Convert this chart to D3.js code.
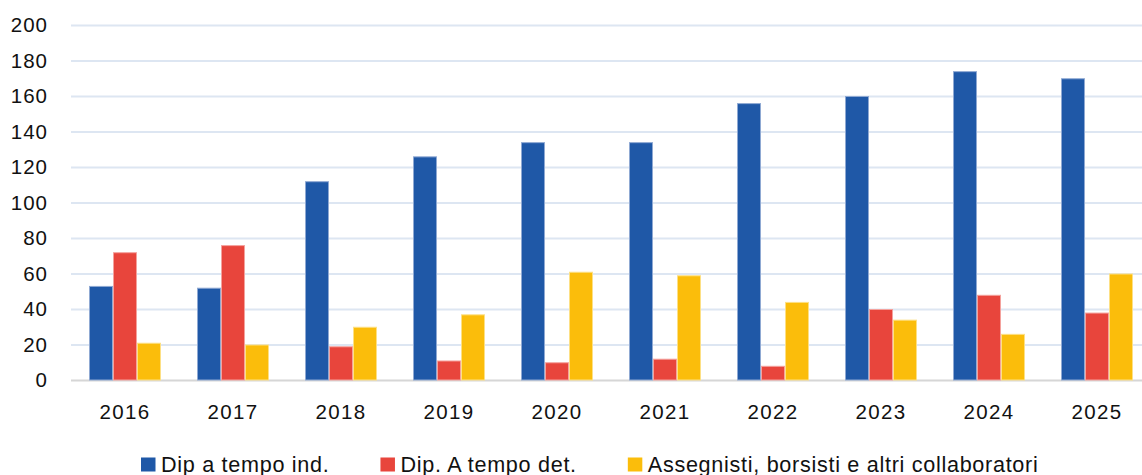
<!DOCTYPE html>
<html><head><meta charset="utf-8">
<script src="https://cdn.jsdelivr.net/npm/d3@7"></script>
<style>
html,body{margin:0;padding:0;background:#fff;}
svg{display:block;}
text{font-family:"Liberation Sans",Arial,sans-serif;fill:#111;}
</style></head>
<body><svg id="c" width="1142" height="475"></svg>
<script>
const years = ["2016","2017","2018","2019","2020","2021","2022","2023","2024","2025"];
const seriesNames = ["Dip a tempo ind.","Dip. A tempo det.","Assegnisti, borsisti e altri collaboratori"];
const dipInd = [53,52,112,126,134,134,156,160,174,170];
const dipDet = [72,76,19,11,10,12,8,40,48,38];
const assegnisti = [21,20,30,37,61,59,44,34,26,60];
const yTicks = [0,20,40,60,80,100,120,140,160,180,200];
const colors = ["#1f58a7","#e8453c","#fbbd0b"];
const strokes = ["#8fa9d3","#f4a29d","#fde085"];

const seriesValues = [dipInd, dipDet, assegnisti];
const svg = d3.select("#c");
const x0 = d3.scaleBand().domain(years).range([71,1151]).paddingInner(1/3).paddingOuter(1/6);
const x1 = d3.scaleBand().domain(d3.range(3)).range([0,x0.bandwidth()]);
const y = d3.scaleLinear().domain([0,200]).range([380,25]);

// gridlines
const yAxis = d3.axisLeft(y).tickValues(yTicks).tickSize(-(1151-71)).tickPadding(24);
const gy = svg.append("g").attr("transform","translate(71,0)").call(yAxis);
gy.select(".domain").remove();
gy.selectAll(".tick line").attr("stroke","#dde6f2").attr("stroke-width",2);
gy.selectAll(".tick text").attr("font-size","20.5px").attr("letter-spacing","1px").attr("fill","#111").attr("dx","1px").attr("dy","0.33em");
gy.selectAll(".tick").filter(d=>d===0).select("line").attr("stroke","#d6d6d6").attr("stroke-width",2);

// bars
const groups = svg.append("g").selectAll("g").data(years).join("g")
  .attr("transform",d=>`translate(${x0(d)},0)`);
groups.selectAll("rect").data((d,i)=>seriesValues.map((s,k)=>({k,v:s[i]}))).join("rect")
  .attr("x",d=>x1(d.k)+0.5).attr("width",x1.bandwidth()-1)
  .attr("y",d=>y(d.v)+0.5).attr("height",d=>y(0)-y(d.v)-0.5)
  .attr("fill",d=>colors[d.k]).attr("stroke",d=>strokes[d.k]).attr("stroke-width",1);

// x axis labels
const xAxis = d3.axisBottom(x0).tickSize(0).tickPadding(23);
const gx = svg.append("g").attr("transform","translate(0,381)").call(xAxis);
gx.select(".domain").remove();
gx.selectAll(".tick text").attr("font-size","20.5px").attr("letter-spacing","1.3px").attr("fill","#111");

// legend
const leg = svg.append("g");
let lx = 141;
seriesNames.forEach((name,k)=>{
  leg.append("rect").attr("x",lx).attr("y",457.5).attr("width",14.5).attr("height",14).attr("fill",colors[k]);
  const t = leg.append("text").attr("x",lx+20).attr("y",471.5).attr("font-size","21.6px")
    .attr("letter-spacing","0.7px").text(name);
  lx += 20 + t.node().getComputedTextLength() + 51;
});
</script></body></html>
